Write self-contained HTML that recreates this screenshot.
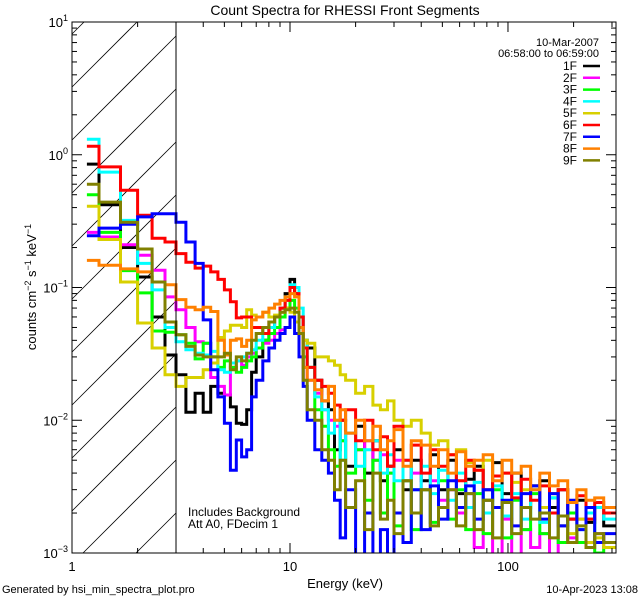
<!DOCTYPE html>
<html><head><meta charset="utf-8">
<style>
html,body{margin:0;padding:0;background:#fff;width:640px;height:600px;overflow:hidden;}
svg{display:block;}
svg text{font-family:"Liberation Sans",sans-serif;fill:#000;}
</style></head>
<body>
<svg id="chart" width="640" height="600" viewBox="0 0 640 600" xmlns="http://www.w3.org/2000/svg" overflow="hidden">
<rect x="0" y="0" width="640" height="600" fill="#fff"/>
<defs><clipPath id="plotclip"><rect x="72" y="22" width="544" height="531"/></clipPath></defs>
<g id="hatch"></g>
<g id="series" clip-path="url(#plotclip)"></g>
<g id="axes"></g>
<text x="345" y="15" text-anchor="middle" font-size="14">Count Spectra for RHESSI Front Segments</text>
<text x="345" y="588" text-anchor="middle" font-size="13">Energy (keV)</text>
<text transform="translate(36,287) rotate(-90)" text-anchor="middle" font-size="13">counts cm<tspan font-size="9" dy="-5">−2</tspan><tspan dy="5"> s</tspan><tspan font-size="9" dy="-5">−1</tspan><tspan dy="5"> keV</tspan><tspan font-size="9" dy="-5">−1</tspan></text>
<text x="188" y="516" font-size="12">Includes Background</text>
<text x="188" y="528" font-size="12">Att A0, FDecim 1</text>
<text x="2" y="593" font-size="11">Generated by hsi_min_spectra_plot.pro</text>
<text x="638" y="593" text-anchor="end" font-size="11">10-Apr-2023 13:08</text>
<g id="legend">
<text x="599" y="46" text-anchor="end" font-size="11">10-Mar-2007</text>
<text x="599" y="57" text-anchor="end" font-size="11">06:58:00 to 06:59:00</text>
</g>
</svg>
<script>
const edges = [1.17,1.33,1.67,2,2.33,2.67,3,3.33,3.67,4,4.33,4.67,5,5.33,5.67,6,6.33,6.67,7,7.5,8,8.5,9,9.5,10,10.5,11,11.5,12,13,14,15,16,17,18,20,22,24,26,28,30,33,36,40,44,48,53,58,64,70,77,85,94,104,115,127,140,155,170,188,207,228,250,275,313];
const seriesNames = ["1F","2F","3F","4F","5F","6F","7F","8F","9F"];
const seriesColors = ["#000000","#ff00ff","#00ff00","#00ffff","#d8d000","#ff0000","#0000ff","#ff8000","#808000"];
const s1F = [0.85,0.42,0.2,0.12,0.06,0.031,0.022,0.0115,0.016,0.0115,0.018,0.016,0.0155,0.0126,0.0095,0.0093,0.012,0.023,
0.03,0.04,0.05,0.06,0.07,0.09,0.115,0.09,0.06,0.04,0.035,0.02,0.014,0.012,0.006,0.01,0.0045,0.009,0.004,0.007,0.0035,0.0045,0.006,0.003,0.005,0.0035,0.0055,0.003,0.005,0.0028,0.0036,0.0045,0.0025,0.0048,0.0028,0.004,0.0022,0.0032,0.0035,0.0022,0.003,0.0018,0.0025,0.0017,0.0022,0.0016];
const s2F = [0.26,0.24,0.21,0.175,0.135,0.085,0.068,0.05,0.039,0.038,0.021,0.018,0.0155,0.025,0.028,0.026,0.03,0.032,
0.035,0.038,0.04,0.045,0.048,0.05,0.06,0.055,0.045,0.025,0.02,0.016,0.012,0.01,0.009,0.007,0.008,0.006,0.007,0.005,0.0055,0.004,0.005,0.0035,0.004,0.003,0.0035,0.0025,0.003,0.002,0.0028,0.0011,0.002,0.0009,0.0018,0.0009,0.0015,0.0011,0.0014,0.0009,0.0016,0.0013,0.0018,0.0012,0.0014,0.0011];
const s3F = [0.5,0.26,0.134,0.091,0.047,0.046,0.044,0.038,0.029,0.038,0.03,0.025,0.028,0.025,0.023,0.025,0.028,0.03,
0.035,0.04,0.045,0.05,0.06,0.07,0.08,0.07,0.05,0.03,0.025,0.012,0.009,0.006,0.0045,0.007,0.004,0.006,0.0025,0.005,0.002,0.004,0.0016,0.0035,0.0015,0.003,0.0017,0.0035,0.0018,0.003,0.0015,0.0028,0.0014,0.003,0.0013,0.0025,0.0015,0.0028,0.0014,0.0026,0.0012,0.002,0.0012,0.0018,0.001,0.0011];
const s4F = [1.31,0.74,0.32,0.152,0.096,0.05,0.039,0.034,0.032,0.031,0.033,0.024,0.023,0.027,0.028,0.03,0.032,0.034,
0.04,0.045,0.05,0.06,0.07,0.085,0.105,0.1,0.07,0.04,0.025,0.015,0.012,0.008,0.01,0.005,0.008,0.0045,0.006,0.007,0.004,0.0055,0.0035,0.005,0.003,0.0045,0.0028,0.0042,0.0025,0.004,0.0022,0.0034,0.002,0.0032,0.0019,0.0028,0.0018,0.003,0.0017,0.0026,0.0016,0.0024,0.0015,0.002,0.0022,0.0018];
const s5F = [0.41,0.23,0.11,0.054,0.035,0.022,0.018,0.021,0.021,0.024,0.027,0.042,0.047,0.052,0.052,0.05,0.068,0.062,
0.06,0.065,0.06,0.062,0.065,0.07,0.065,0.055,0.045,0.04,0.038,0.03,0.03,0.028,0.026,0.022,0.02,0.016,0.018,0.013,0.012,0.014,0.01,0.009,0.01,0.008,0.0065,0.007,0.0055,0.006,0.0048,0.0042,0.005,0.0038,0.004,0.0034,0.003,0.0032,0.0022,0.0028,0.0016,0.0014,0.0018,0.0012,0.0013,0.0011];
const s6F = [1.16,0.81,0.54,0.35,0.235,0.22,0.18,0.155,0.14,0.145,0.131,0.115,0.096,0.078,0.059,0.06,0.06,0.05,
0.05,0.045,0.055,0.06,0.07,0.08,0.1,0.09,0.06,0.035,0.025,0.02,0.018,0.016,0.013,0.01,0.012,0.007,0.01,0.006,0.0075,0.0045,0.009,0.005,0.0065,0.004,0.006,0.0045,0.0055,0.0035,0.005,0.0042,0.003,0.0038,0.004,0.0026,0.0036,0.0025,0.0032,0.002,0.003,0.0018,0.0027,0.0018,0.0024,0.002];
const s7F = [0.245,0.28,0.3,0.34,0.36,0.36,0.31,0.22,0.152,0.057,0.024,0.015,0.0095,0.0042,0.0071,0.0053,0.006,0.015,
0.02,0.028,0.035,0.04,0.045,0.05,0.06,0.045,0.03,0.018,0.01,0.006,0.005,0.004,0.0025,0.0013,0.003,0.0009,0.002,0.0008,0.0015,0.0008,0.002,0.0012,0.003,0.0015,0.0032,0.0018,0.0035,0.0022,0.0032,0.0018,0.003,0.0022,0.0025,0.0016,0.0028,0.0032,0.0018,0.0028,0.0016,0.0025,0.0015,0.0022,0.0012,0.0014];
const s8F = [0.16,0.147,0.138,0.131,0.11,0.105,0.081,0.071,0.068,0.071,0.066,0.04,0.031,0.04,0.041,0.036,0.04,0.057,
0.06,0.065,0.07,0.075,0.08,0.085,0.09,0.085,0.05,0.025,0.02,0.017,0.014,0.018,0.01,0.012,0.008,0.01,0.007,0.009,0.006,0.007,0.0085,0.0045,0.007,0.0065,0.0045,0.006,0.004,0.0058,0.0045,0.005,0.0055,0.0035,0.005,0.004,0.0045,0.003,0.004,0.0032,0.0035,0.0024,0.003,0.0025,0.0026,0.0022];
const s9F = [0.6,0.44,0.31,0.195,0.11,0.055,0.044,0.036,0.031,0.03,0.03,0.03,0.032,0.024,0.03,0.028,0.032,0.04,
0.045,0.05,0.055,0.06,0.065,0.068,0.07,0.065,0.045,0.02,0.012,0.01,0.006,0.005,0.003,0.005,0.0022,0.0035,0.0015,0.004,0.0018,0.0025,0.0014,0.0035,0.002,0.003,0.0016,0.0022,0.003,0.0016,0.0028,0.0015,0.0025,0.0013,0.0024,0.0014,0.0022,0.0018,0.002,0.0013,0.0019,0.0012,0.0016,0.0011,0.0014,0.0012];
const allSeries = [s1F,s2F,s3F,s4F,s5F,s6F,s7F,s8F,s9F];
const xTickLabels = ["1","10","100"];
const xTickValues = [1,10,100];
const yTickExps = ["1","0","−1","−2","−3"];
const yTickValues = [10,1,0.1,0.01,0.001];

const L=72,R=616,T=22,B=553;
const XMIN=1,XMAX=313,YMIN=0.001,YMAX=10;
function xs(v){return L+(Math.log10(v)-Math.log10(XMIN))/(Math.log10(XMAX)-Math.log10(XMIN))*(R-L);}
function ys(v){return T+(Math.log10(YMAX)-Math.log10(v))/(Math.log10(YMAX)-Math.log10(YMIN))*(B-T);}
const NS="http://www.w3.org/2000/svg";
function mk(tag,attrs,parent){const e=document.createElementNS(NS,tag);for(const k in attrs)e.setAttribute(k,attrs[k]);parent.appendChild(e);return e;}

// hatch lines, clipped manually to x in [72, xs(3)], y in [T, B]
const hatch=document.getElementById('hatch');
const HX1=xs(3);
for(let i=-12;i<14;i++){
  const y0=87+i*53;           // y at x=72; line y = y0-(x-72)
  let xa=72, xb=HX1;
  // y within [T,B]: x >= 72 + y0 - B, x <= 72 + y0 - T
  xa=Math.max(xa,72+y0-B);
  xb=Math.min(xb,72+y0-T);
  if(xb<=xa)continue;
  const ln=mk('line',{x1:xa,y1:y0-(xa-72),x2:xb,y2:y0-(xb-72),stroke:'#000','stroke-width':0.8},hatch);
  
  
}
const axes=document.getElementById('axes');
const vl=mk('line',{x1:xs(3),y1:T,x2:xs(3),y2:B,stroke:'#000','stroke-width':1},axes);



const sg=document.getElementById('series');
allSeries.forEach((vals,si)=>{
  let d='';
  for(let i=0;i<vals.length;i++){
    const x0=xs(edges[i]),x1=xs(edges[i+1]);
    const y=Math.min(ys(vals[i]),B+2);
    d+=(i===0?'M':'L')+x0.toFixed(1)+','+y.toFixed(1)+'L'+x1.toFixed(1)+','+y.toFixed(1);
  }
  const p=mk('path',{d:d,fill:'none',stroke:seriesColors[si],'stroke-width':3,'stroke-linejoin':'miter'},sg);
  
  
});

const fr=mk('rect',{x:L,y:T,width:R-L,height:B-T,fill:'none',stroke:'#000','stroke-width':1},axes);


for(let dec=1;dec<=100;dec*=10){
  for(let m=1;m<=9;m++){
    const v=dec*m; if(v>XMAX)break;
    const x=xs(v),len=(m===1)?10:5;
    const t1=mk('line',{x1:x,y1:B,x2:x,y2:B-len,stroke:'#000'},axes);
    
    
    const t2=mk('line',{x1:x,y1:T,x2:x,y2:T+len,stroke:'#000'},axes);
    
    
  }
}
xTickValues.forEach((v,i)=>{
  const t=mk('text',{x:xs(v),y:B+18,'text-anchor':'middle','font-size':13},axes);
  t.textContent=xTickLabels[i];
  
  
});
for(let e=-3;e<1;e++){
  for(let m=1;m<=9;m++){
    const v=Math.pow(10,e)*m, y=ys(v), len=(m===1)?10:5;
    const a=mk('line',{x1:L,y1:y,x2:L+len,y2:y,stroke:'#000'},axes);
    
    
    const b=mk('line',{x1:R,y1:y,x2:R-len,y2:y,stroke:'#000'},axes);
    
    
  }
}
yTickValues.forEach((v,i)=>{
  const t=mk('text',{x:L-4,y:ys(v)+5,'text-anchor':'end','font-size':13},axes);
  
  
  t.appendChild(document.createTextNode('10'));
  const ts=mk('tspan',{'font-size':9,dy:-6},t);
  ts.textContent=yTickExps[i];
});
const lg=document.getElementById('legend');
seriesNames.forEach((n,i)=>{
  const y=66+i*11.8;
  const t=mk('text',{x:577,y:y+4,'text-anchor':'end','font-size':12},lg);
  t.textContent=n;
  
  
  const l=mk('line',{x1:583,y1:y,x2:600,y2:y,stroke:seriesColors[i],'stroke-width':2.5},lg);
  
  
});
</script>
</body></html>
